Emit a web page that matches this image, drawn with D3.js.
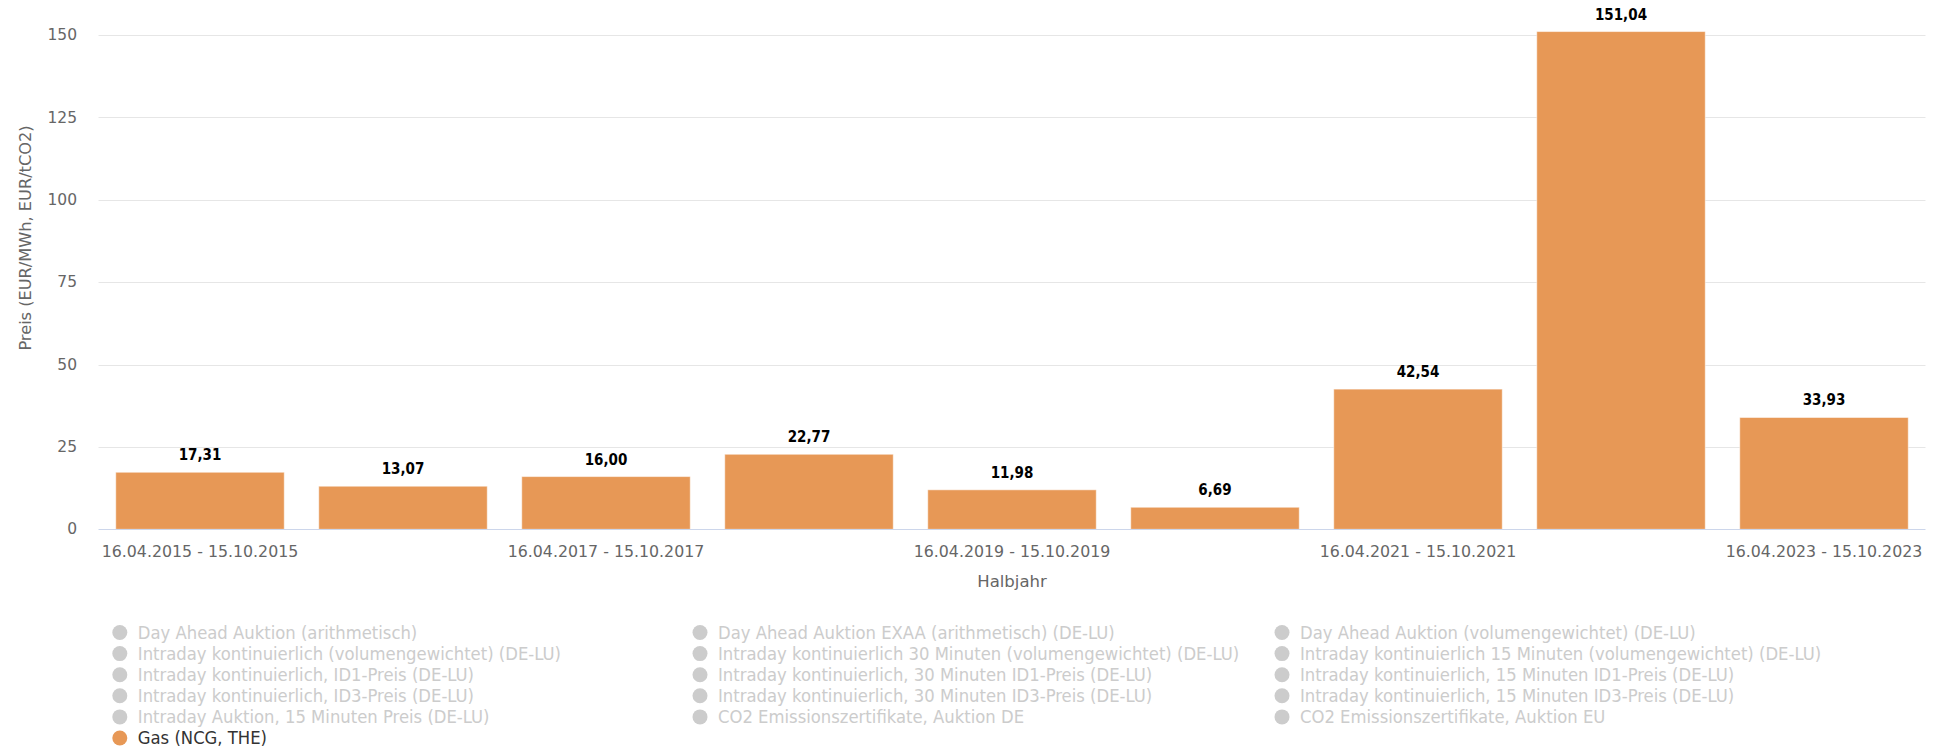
<!DOCTYPE html>
<html>
<head>
<meta charset="utf-8">
<script src="https://cdn.jsdelivr.net/npm/d3@7"></script>
<style>
  html, body { margin: 0; padding: 0; background: #fff; }
  svg { display: block; }
</style>
</head>
<body>
<svg id="chart" width="1937" height="750"></svg>
<script>
// ---- data ----
const categories = [
  "16.04.2015 - 15.10.2015",
  "16.04.2016 - 15.10.2016",
  "16.04.2017 - 15.10.2017",
  "16.04.2018 - 15.10.2018",
  "16.04.2019 - 15.10.2019",
  "16.04.2020 - 15.10.2020",
  "16.04.2021 - 15.10.2021",
  "16.04.2022 - 15.10.2022",
  "16.04.2023 - 15.10.2023"
];
const gasValues = [17.31, 13.07, 16.00, 22.77, 11.98, 6.69, 42.54, 151.04, 33.93];
const shownTickLabels = [
  "16.04.2015 - 15.10.2015",
  "16.04.2017 - 15.10.2017",
  "16.04.2019 - 15.10.2019",
  "16.04.2021 - 15.10.2021",
  "16.04.2023 - 15.10.2023"
];
const yTicks = [0, 25, 50, 75, 100, 125, 150];
const yAxisTitle = "Preis (EUR/MWh, EUR/tCO2)";
const xAxisTitle = "Halbjahr";
const legendNames = [
  "Day Ahead Auktion (arithmetisch)",
  "Day Ahead Auktion EXAA (arithmetisch) (DE-LU)",
  "Day Ahead Auktion (volumengewichtet) (DE-LU)",
  "Intraday kontinuierlich (volumengewichtet) (DE-LU)",
  "Intraday kontinuierlich 30 Minuten (volumengewichtet) (DE-LU)",
  "Intraday kontinuierlich 15 Minuten (volumengewichtet) (DE-LU)",
  "Intraday kontinuierlich, ID1-Preis (DE-LU)",
  "Intraday kontinuierlich, 30 Minuten ID1-Preis (DE-LU)",
  "Intraday kontinuierlich, 15 Minuten ID1-Preis (DE-LU)",
  "Intraday kontinuierlich, ID3-Preis (DE-LU)",
  "Intraday kontinuierlich, 30 Minuten ID3-Preis (DE-LU)",
  "Intraday kontinuierlich, 15 Minuten ID3-Preis (DE-LU)",
  "Intraday Auktion, 15 Minuten Preis (DE-LU)",
  "CO2 Emissionszertifikate, Auktion DE",
  "CO2 Emissionszertifikate, Auktion EU",
  "Gas (NCG, THE)"
];
const activeSeries = "Gas (NCG, THE)";

// ---- layout ----
const plot = { left: 98.5, right: 1925.5, top: 35, bottom: 529.3 };
const barColor = "#e79856";

const svg = d3.select("#chart");

const x = d3.scaleBand()
  .domain(categories)
  .range([plot.left, plot.right])
  .paddingInner(0.17)
  .paddingOuter(0.085);

const y = d3.scaleLinear()
  .domain([0, 150])
  .range([plot.bottom, plot.top]);

// gridlines
svg.append("g")
  .selectAll("line")
  .data(yTicks.filter(d => d !== 0))
  .join("line")
  .attr("x1", plot.left)
  .attr("x2", plot.right)
  .attr("y1", d => Math.round(y(d)) + 0.5)
  .attr("y2", d => Math.round(y(d)) + 0.5)
  .attr("stroke", "#e6e6e6")
  .attr("stroke-width", 1);

// y axis labels
const yAxis = d3.axisLeft(y).tickValues(yTicks).tickSize(0).tickPadding(0);
const yG = svg.append("g")
  .attr("transform", `translate(${77},0)`)
  .call(yAxis);
yG.select(".domain").remove();
yG.selectAll("text")
  .attr("font-family", "DejaVu Sans, Verdana, sans-serif")
  .attr("font-size", 15.5)
  .attr("fill", "#666666")
  .attr("dy", "0.3em");

// y axis title
svg.append("text")
  .attr("transform", `translate(25, 238) rotate(-90)`)
  .attr("text-anchor", "middle")
  .attr("dominant-baseline", "central")
  .attr("font-family", "DejaVu Sans, Verdana, sans-serif")
  .attr("font-size", 16.2)
  .attr("fill", "#666666")
  .text(yAxisTitle);

// bars
svg.append("g")
  .selectAll("rect")
  .data(gasValues)
  .join("rect")
  .attr("x", (d, i) => x(categories[i]))
  .attr("y", d => y(d))
  .attr("width", x.bandwidth())
  .attr("height", d => y(0) - y(d))
  .attr("fill", barColor)
  .attr("stroke", "#ffffff")
  .attr("stroke-opacity", 0.5)
  .attr("stroke-width", 1);

// x axis line
svg.append("line")
  .attr("x1", plot.left)
  .attr("x2", plot.right)
  .attr("y1", Math.round(y(0)) + 0.5)
  .attr("y2", Math.round(y(0)) + 0.5)
  .attr("stroke", "#ccd6eb")
  .attr("stroke-width", 1);

// x axis labels
const xAxis = d3.axisBottom(x).tickValues(shownTickLabels).tickSize(0).tickPadding(0);
const xG = svg.append("g")
  .attr("transform", `translate(0, ${plot.bottom})`)
  .call(xAxis);
xG.select(".domain").remove();
xG.selectAll("text")
  .attr("font-family", "DejaVu Sans, Verdana, sans-serif")
  .attr("font-size", 15.8)
  .attr("fill", "#666666")
  .attr("dy", null)
  .attr("y", 28);

// x axis title
svg.append("text")
  .attr("x", (plot.left + plot.right) / 2)
  .attr("y", 587)
  .attr("text-anchor", "middle")
  .attr("font-family", "DejaVu Sans, Verdana, sans-serif")
  .attr("font-size", 16.5)
  .attr("fill", "#666666")
  .text(xAxisTitle);

// data labels
const fmt = d3.format(".2f");
svg.append("g")
  .selectAll("text")
  .data(gasValues)
  .join("text")
  .attr("x", (d, i) => x(categories[i]) + x.bandwidth() / 2)
  .attr("y", d => y(d) - 12)
  .attr("text-anchor", "middle")
  .attr("font-family", "DejaVu Sans Condensed, DejaVu Sans, sans-serif")
  .attr("font-weight", "bold")
  .attr("font-size", 15)
  .attr("fill", "#000000")
  .text(d => fmt(d).replace(".", ","));

// legend
const legendCols = [119.8, 700, 1282];
const legendRowY0 = 632.5;
const legendRowH = 21.1;
const lg = svg.append("g")
  .selectAll("g")
  .data(legendNames)
  .join("g")
  .attr("transform", (d, i) => `translate(${legendCols[i % 3]}, ${legendRowY0 + Math.floor(i / 3) * legendRowH})`);
lg.append("circle")
  .attr("r", 7.5)
  .attr("fill", d => d === activeSeries ? barColor : "#cccccc");
lg.append("text")
  .attr("x", 18)
  .attr("dy", "0.34em")
  .attr("font-family", "DejaVu Sans Condensed, DejaVu Sans, sans-serif")
  .attr("font-size", 18.3)
  .attr("fill", d => d === activeSeries ? "#333333" : "#cccccc")
  .text(d => d);
</script>
</body>
</html>
